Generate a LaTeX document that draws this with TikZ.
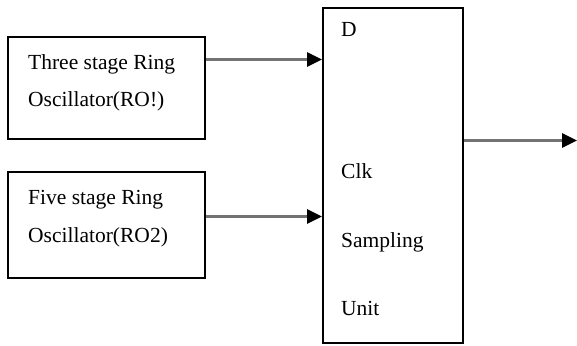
\documentclass[tikz,border=0pt]{standalone}
\usepackage{fontspec}
\setmainfont{Liberation Serif}
\usetikzlibrary{arrows.meta}
\begin{document}
\begin{tikzpicture}[x=1pt,y=-1pt,
  blk/.style={draw=black,line width=1.8pt,minimum width=197pt,inner sep=0pt},
  txt/.style={anchor=west,inner sep=0pt,align=left,
    font=\fontsize{21.5}{37.5}\selectfont},
  sig/.style={draw=black!55,line width=2.6pt,
    -{Triangle[length=15pt,width=14pt,fill=black,color=black]},shorten >=0pt}]
\useasboundingbox (0,0) rectangle (577,345);
% input oscillators
\node[blk,minimum height=102pt] (ro1) at (106.5,88) {};
\node[blk,minimum height=106pt] (ro2) at (106.5,225) {};
\node[txt] (ro1t) at (28,83) {Three stage Ring\\Oscillator(RO!)};
\node[txt] (ro2t) at (28,218.5) {Five stage Ring\\Oscillator(RO2)};
% sampling unit
\node[draw=black,line width=1.8pt,minimum width=140pt,minimum height=335pt,inner sep=0pt] (su) at (393,175.5) {};
\node[txt] (d) at (341,29) {D};
\node[txt] (clk) at (341,171) {Clk};
\node[txt] (smp) at (341,242) {Sampling};
\node[txt] (unit) at (341,308) {Unit};
% connections
\coordinate (inD) at (0,59.5);
\coordinate (inC) at (0,216.5);
\coordinate (out) at (577,140.5);
\draw[sig] (ro1.east |- inD) -- (su.west |- inD);
\draw[sig] (ro2.east |- inC) -- (su.west |- inC);
\draw[sig] (su.east |- out) -- (out);
\end{tikzpicture}
\end{document}
